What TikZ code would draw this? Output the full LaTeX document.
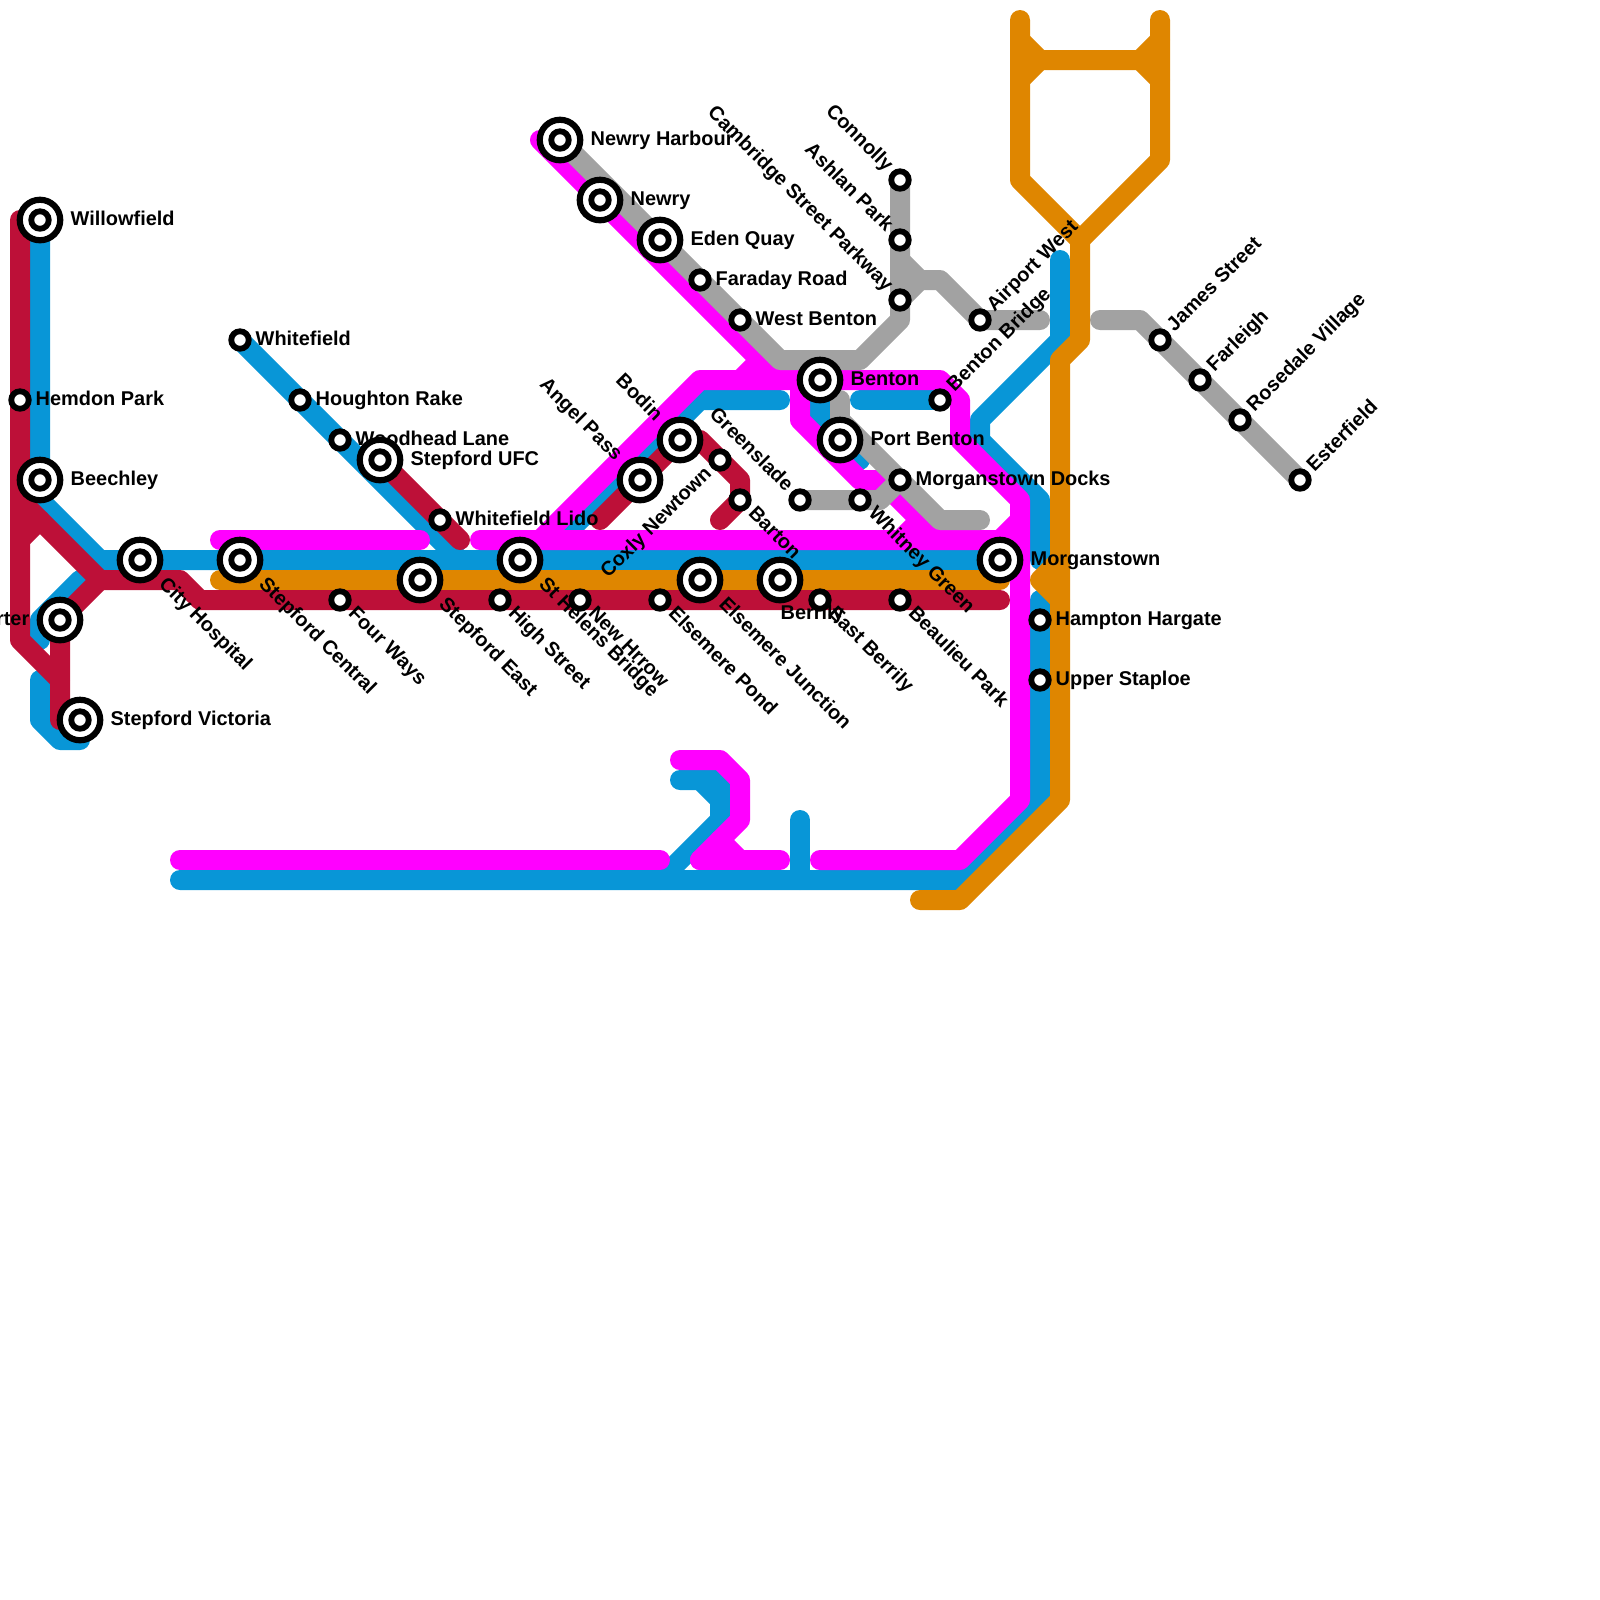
\documentclass[tikz,border=0pt]{standalone}
\usepackage{fontspec}
\setmainfont{Liberation Sans}
\pgfdeclarelayer{front}
\pgfsetlayers{main,front}
\tikzset{
  route/.style={line width=0.2cm,line cap=round,line join=round},
  bluel/.style={route,draw=lineblue},
  pinkl/.style={route,draw=linepink},
  greyl/.style={route,draw=linegrey},
  orngl/.style={route,draw=lineorng},
  crmsl/.style={route,draw=linecrms},
  stop/.style={circle,draw=black,fill=white,line width=0.058cm,inner sep=0pt,outer sep=0pt,minimum size=0.175cm},
  hub/.style={stop,line width=0.062cm,minimum size=0.405cm},
  lbltxt/.style={inner sep=0pt,anchor=base west},
  lblE/.style={lbltxt,xshift=#1,yshift=-0.05cm},
  lblW/.style={lbltxt,anchor=base east,xshift=-#1,yshift=-0.05cm},
  lblSE/.style={lbltxt,rotate=-45,xshift=#1,yshift=-0.05cm},
  lblNE/.style={lbltxt,rotate=45,xshift=#1,yshift=-0.05cm},
  lblNW/.style={lbltxt,anchor=base east,rotate=-45,xshift=-#1,yshift=-0.05cm},
  lblSW/.style={lbltxt,anchor=base east,rotate=45,xshift=-#1,yshift=-0.05cm},
  lblS/.style={lbltxt,yshift=-0.39cm},
}
\definecolor{lineblue}{HTML}{0896D7}
\definecolor{linepink}{HTML}{FF00FF}
\definecolor{linegrey}{HTML}{A2A2A2}
\definecolor{lineorng}{HTML}{DF8600}
\definecolor{linecrms}{HTML}{BD1038}
\begin{document}
\begin{tikzpicture}[x=0.2cm,y=-0.2cm,font=\fontsize{5.67}{6.8}\selectfont\bfseries]
  \useasboundingbox (0,0) rectangle (80,80);
  \begin{pgfonlayer}{front}
  % stops: name, x, y, label side, label
  \foreach \n/\x/\y/\side/\lbl in {
    hp/1/20/lblE/{Hemdon Park},
    wfd/12/17/lblE/{Whitefield},
    hou/15/20/lblE/{Houghton Rake},
    wdh/17/22/lblE/{Woodhead Lane},
    wfl/22/26/lblE/{Whitefield Lido},
    fw/17/30/lblSE/{Four Ways},
    hs/25/30/lblSE/{High Street},
    nh/29/30/lblSE/{New Hrrow},
    ep/33/30/lblSE/{Elsemere Pond},
    eb/41/30/lblSE/{East Berrily},
    bp/45/30/lblSE/{Beaulieu Park},
    bar/37/25/lblSE/{Barton},
    whg/43/25/lblSE/{Whitney Green},
    cox/36/23/lblSW/{Coxly Newtown},
    gsl/40/25/lblNW/{Greenslade},
    mdk/45/24/lblE/{Morganstown Docks},
    bb/47/20/lblNE/{Benton Bridge},
    aw/49/16/lblNE/{Airport West},
    wb/37/16/lblE/{West Benton},
    fr/35/14/lblE/{Faraday Road},
    con/45/9/lblNW/{Connolly},
    ash/45/12/lblNW/{Ashlan Park},
    csp/45/15/lblNW/{Cambridge Street Parkway},
    js/58/17/lblNE/{James Street},
    far/60/19/lblNE/{Farleigh},
    rv/62/21/lblNE/{Rosedale Village},
    est/65/24/lblNE/{Esterfield},
    hh/52/31/lblE/{Hampton Hargate},
    us/52/34/lblE/{Upper Staploe}}{
    \node[stop] (\n) at (\x,\y) {};
    \node[\side=0.15cm] (\n-lbl) at (\x,\y) {\lbl};
  }
  % interchanges
  \foreach \n/\x/\y/\side/\lbl in {
    wil/2/11/lblE/{Willowfield},
    bch/2/24/lblE/{Beechley},
    rt/3/31/lblW/{rter},
    sv/4/36/lblE/{Stepford Victoria},
    ch/7/28/lblSE/{City Hospital},
    sc/12/28/lblSE/{Stepford Central},
    sufc/19/23/lblE/{Stepford UFC},
    se/21/29/lblSE/{Stepford East},
    shb/26/28/lblSE/{St Helens Bridge},
    ej/35/29/lblSE/{Elsemere Junction},
    ber/39/29/lblS/{Berrily},
    mor/50/28/lblE/{Morganstown},
    ang/32/24/lblNW/{Angel Pass},
    bod/34/22/lblNW/{Bodin},
    ben/41/19/lblE/{Benton},
    pb/42/22/lblE/{Port Benton},
    nhb/28/7/lblE/{Newry Harbour},
    new/30/10/lblE/{Newry},
    eq/33/12/lblE/{Eden Quay}}{
    \node[hub] (\n) at (\x,\y) {};
    \node[stop] (\n-in) at (\x,\y) {};
    \node[\side=0.3cm] (\n-lbl) at (\x,\y) {\lbl};
  }
  \end{pgfonlayer}
  % blue
  \draw[bluel] (wil.center) -- (bch.center) -- (2,25) -- (5,28) -- (mor.center);
  \draw[bluel] (4,29) -- (2,31) -- (2,32);
  \draw[bluel] (2,34) -- (2,36) -- (3,37) -- (4,37);
  \draw[bluel] (wfd.center) -- (23,28);
  \draw[bluel] (28,27) -- (35,20) -- (39,20);
  \draw[bluel] (ben.center) -- (41,21) -- (43,23);
  \draw[bluel] (43,20) -- (bb.center);
  \draw[bluel] (53,13) -- (53,17) -- (49,21) -- (49,22) -- (52,25) -- (52,28);
  \draw[bluel] (52,30) -- (us.center) -- (52,40) -- (48,44) -- (9,44);
  \draw[bluel] (34,39) -- (36,39) -- (36,41) -- (33,44);
  \draw[bluel] (35,39) -- (36,40);
  \draw[bluel] (40,41) -- (40,44);
  % pink
  \draw[pinkl] (27,7) -- (39,19);
  \draw[pinkl] (27,27) -- (35,19) -- (47,19) -- (48,20) -- (48,22) -- (51,25) -- (51,40) -- (48,43) -- (41,43);
  \draw[pinkl] (37,19) -- (38,18);
  \draw[pinkl] (40,19) -- (40,21) -- (43,24) -- (44,24) -- (47,27);
  \draw[pinkl] (46,26) -- (45,27);
  \draw[pinkl] (24,27) -- (50,27) -- (51,26);
  \draw[pinkl] (11,27) -- (21,27);
  \draw[pinkl] (9,43) -- (33,43);
  \draw[pinkl] (35,43) -- (39,43);
  \draw[pinkl] (34,38) -- (36,38) -- (37,39) -- (37,41) -- (35,43);
  \draw[pinkl] (36,42) -- (37,43);
  % grey
  \draw[greyl] (nhb.center) -- (39,18) -- (43,18) -- (45,16) -- (con.center);
  \draw[greyl] (45,13) -- (46,14) -- (47,14) -- (aw.center) -- (52,16);
  \draw[greyl] (csp.center) -- (46,14);
  \draw[greyl] (55,16) -- (57,16) -- (est.center);
  \draw[greyl] (42,20) -- (pb.center);
  \draw[greyl] (42,21) -- (47,26) -- (49,26);
  \draw[greyl] (gsl.center) -- (44,25) -- (mdk.center);
  % orange
  \draw[orngl] (11,29) -- (50,29);
  \draw[orngl] (46,45) -- (48,45) -- (53,40) -- (53,18) -- (54,17) -- (54,12) -- (51,9) -- (51,1);
  \draw[orngl] (54,12) -- (58,8) -- (58,1);
  \draw[orngl] (51,2) -- (52,3) -- (57,3) -- (58,2);
  \draw[orngl] (51,4) -- (52,3);
  \draw[orngl] (57,3) -- (58,4);
  \draw[orngl] (53,28) -- (52,29) -- (53,30);
  % crimson
  \draw[crmsl] (1,11) -- (hp.center) -- (1,32) -- (3,34) -- (3,36) -- (sv.center);
  \draw[crmsl] (1,25) -- (5,29) -- (9,29) -- (10,30) -- (50,30);
  \draw[crmsl] (1,27) -- (2,26);
  \draw[crmsl] (5,29) -- (rt.center) -- (3,34);
  \draw[crmsl] (sufc.center) -- (23,27);
  \draw[crmsl] (30,26) -- (bod.center) -- (35,22) -- (37,24) -- (37,25) -- (36,26);
\end{tikzpicture}
\end{document}
